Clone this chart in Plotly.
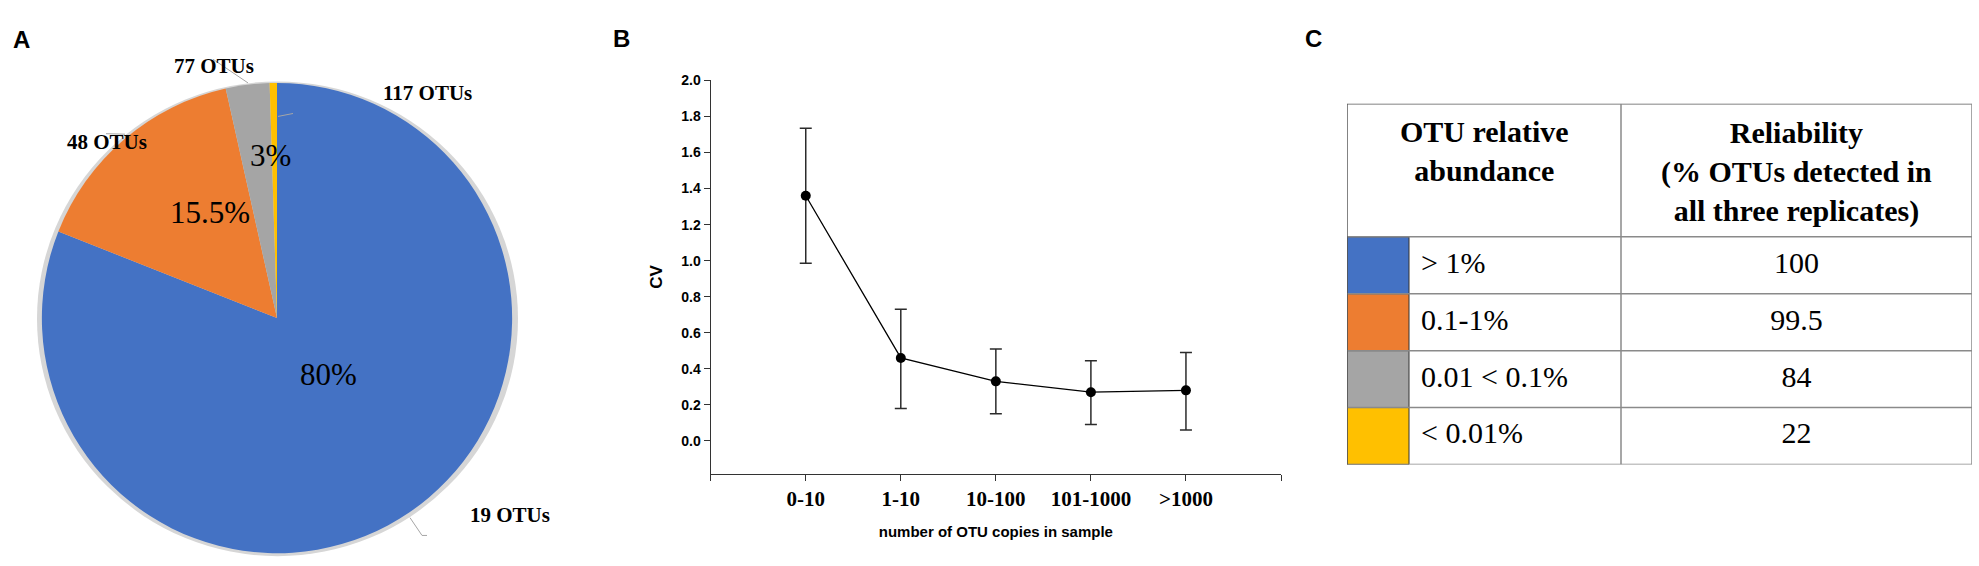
import html
import plotly.graph_objects as go

W, H = 1979, 566

# Panel A - OTU abundance classes
abundance_classes = ["> 1%", "0.1-1%", "0.01 < 0.1%", "< 0.01%"]
class_colors = ["#4472C4", "#ED7D31", "#A5A5A5", "#FFC000"]
read_share = [81, 15.5, 3, 0.5]
share_labels = ["80%", "15.5%", "3%", ""]
otu_counts = ["19 OTUs", "48 OTUs", "77 OTUs", "117 OTUs"]

# Panel B - CV by copy number
copy_bins = ["0-10", "1-10", "10-100", "101-1000", ">1000"]
cv_mean = [1.36, 0.46, 0.33, 0.27, 0.28]
cv_err_plus = [0.375, 0.27, 0.18, 0.175, 0.21]
cv_err_minus = [0.375, 0.28, 0.18, 0.18, 0.22]
cv_ticks = [0.0, 0.2, 0.4, 0.6, 0.8, 1.0, 1.2, 1.4, 1.6, 1.8, 2.0]

# Panel C - reliability table
reliability = ["100", "99.5", "84", "22"]


def px(x, y):
    # pixel position -> paper coords
    return x / W, 1 - y / H


SERIF = "Liberation Serif"
SANS = "Liberation Sans"

fig = go.Figure()

# ---- A: pie
pie_cx, pie_cy, pie_r = 277, 314.5, 238.5
fig.add_trace(go.Pie(
    values=read_share, labels=abundance_classes,
    marker=dict(colors=class_colors, line=dict(width=0)),
    sort=False, direction="clockwise", rotation=0,
    textinfo="none", hoverinfo="label+percent", showlegend=False,
    domain=dict(x=[(pie_cx - pie_r) / W, (pie_cx + pie_r) / W],
                y=[1 - (pie_cy + pie_r) / H, 1 - (pie_cy - pie_r) / H]),
))

shapes = []
# soft shadow behind pie
sx0, sy0 = px(pie_cx - pie_r - 1.5, pie_cy - pie_r - 1.5)
sx1, sy1 = px(pie_cx + pie_r + 2.5, pie_cy + pie_r + 3)
shapes.append(dict(type="circle", xref="paper", yref="paper", layer="below",
                   x0=sx0, x1=sx1, y0=sy1, y1=sy0,
                   fillcolor="#d6d6d6", line=dict(width=0)))

annotations = []
pct_pos = [(298, 392), (168, 188), (248, 130)]
for txt, (x, y) in zip(share_labels, pct_pos):
    ax_, ay_ = px(x, y)
    annotations.append(dict(x=ax_, y=ay_, xref="paper", yref="paper", text=txt,
                            showarrow=False, font=dict(family=SERIF, size=31, color="black")))

otu_pos = [(468, 528), (65, 122), (172, 45), (381, 72)]
for txt, (x, y) in zip(otu_counts, otu_pos):
    ax_, ay_ = px(x, y)
    annotations.append(dict(x=ax_, y=ay_, xref="paper", yref="paper", text=txt,
                            showarrow=False,
                            font=dict(family=SERIF, size=21, color="black", weight="bold")))

leaders = [[(410, 517), (422, 535), (427, 535)],
           [(106, 127.5), (125, 128)],
           [(213, 52), (248, 76)],
           [(278, 110), (293, 107)]]
for pts in leaders:
    for (xa, ya), (xb, yb) in zip(pts[:-1], pts[1:]):
        x0, y0 = px(xa, ya)
        x1, y1 = px(xb, yb)
        shapes.append(dict(type="line", xref="paper", yref="paper",
                           x0=x0, y0=y0, x1=x1, y1=y1,
                           line=dict(color="#a6a6a6", width=1)))

# ---- B: CV line with error bars
fig.add_trace(go.Scatter(
    x=list(range(len(copy_bins))), y=cv_mean, mode="lines+markers",
    line=dict(color="black", width=1.3),
    marker=dict(color="black", size=10),
    error_y=dict(type="data", symmetric=False, array=cv_err_plus,
                 arrayminus=cv_err_minus, color="#2b2b2b", thickness=1.5, width=6),
    xaxis="x2", yaxis="y2", showlegend=False,
))

# ---- C: table on its own hidden axes (1 unit = 1 px in x, 1 row in y)
tbl_x0, tbl_x1, tbl_y0, tbl_y1 = 1347, 1972, 97, 463
swatch_w, label_w = 62, 274
header_rows = 2.34
rows = list(range(len(abundance_classes)))

fig.add_trace(go.Bar(
    y=rows, x=[swatch_w] * len(rows), base=0, orientation="h", width=1,
    marker=dict(color=class_colors, line=dict(color="#333333", width=1)),
    xaxis="x3", yaxis="y3", showlegend=False, hoverinfo="skip",
))
fig.add_trace(go.Scatter(
    x=[swatch_w + 12] * len(rows), y=rows, mode="text",
    text=[html.escape(c) for c in abundance_classes], textposition="middle right",
    textfont=dict(family=SERIF, size=30, color="black"),
    xaxis="x3", yaxis="y3", showlegend=False, hoverinfo="skip",
))
fig.add_trace(go.Scatter(
    x=[(label_w + (tbl_x1 - tbl_x0)) / 2] * len(rows), y=rows, mode="text",
    text=reliability, textposition="middle center",
    textfont=dict(family=SERIF, size=30, color="black"),
    xaxis="x3", yaxis="y3", showlegend=False, hoverinfo="skip",
))

tbl_w = tbl_x1 - tbl_x0
top = -0.5 - header_rows
bottom = len(rows) - 0.5
grid = "#8a8a8a"
for yv in [top, -0.5] + [r + 0.5 for r in rows]:
    shapes.append(dict(type="line", xref="x3", yref="y3", x0=0, x1=tbl_w, y0=yv, y1=yv,
                       line=dict(color="#5a5a5a" if yv == top else grid, width=1.5)))
for xv in [0, label_w, tbl_w]:
    shapes.append(dict(type="line", xref="x3", yref="y3", x0=xv, x1=xv, y0=top, y1=bottom,
                       line=dict(color="#5a5a5a" if xv == 0 else grid, width=1.5)))

annotations.append(dict(x=label_w / 2, y=top + 0.84, xref="x3", yref="y3",
                        text="OTU relative<br>abundance", showarrow=False,
                        font=dict(family=SERIF, size=30, color="black", weight="bold")))
annotations.append(dict(x=(label_w + tbl_w) / 2, y=top + 1.2, xref="x3", yref="y3",
                        text="Reliability<br>(% OTUs detected in<br>all three replicates)",
                        showarrow=False,
                        font=dict(family=SERIF, size=30, color="black", weight="bold")))

# panel letters
for letter, (x, y) in zip(["A", "B", "C"], [(11, 16), (611, 15.5), (1313, 15.5)]):
    ax_, ay_ = px(x, y)
    annotations.append(dict(x=ax_, y=ay_, xref="paper", yref="paper", text=letter,
                            showarrow=False,
                            font=dict(family=SANS, size=24, color="black", weight="bold")))

bx0, bx1 = 710.7, 1281
by_top, by_bot = 73.3, 472.3

fig.update_layout(
    width=W, height=H,
    margin=dict(l=0, r=0, t=0, b=0),
    paper_bgcolor="white", plot_bgcolor="white",
    showlegend=False,
    xaxis2=dict(
        domain=[bx0 / W, bx1 / W], anchor="y2",
        range=[-1, len(copy_bins)],
        tickvals=list(range(-1, len(copy_bins) + 1)),
        ticktext=[""] + copy_bins + [""],
        ticks="outside", ticklen=6, tickwidth=1.3, tickcolor="#333333",
        showline=True, linecolor="#333333", linewidth=1.3,
        showgrid=False, zeroline=False,
        tickfont=dict(family=SERIF, size=21, color="black", weight="bold"),
        title=dict(text="number of OTU copies in sample", standoff=16,
                   font=dict(family=SANS, size=15, color="black", weight="bold")),
    ),
    yaxis2=dict(
        domain=[1 - by_bot / H, 1 - by_top / H], anchor="x2",
        range=[-0.182, 2.001],
        tickvals=cv_ticks, tickformat=".1f",
        ticks="outside", ticklen=6, tickwidth=1.3, tickcolor="#333333",
        showline=True, linecolor="#333333", linewidth=1.3,
        showgrid=False, zeroline=False,
        tickfont=dict(family=SANS, size=14, color="black", weight="bold"),
        title=dict(text="CV", standoff=14,
                   font=dict(family=SANS, size=17, color="black", weight="bold")),
    ),
    xaxis3=dict(domain=[tbl_x0 / W, tbl_x1 / W], anchor="y3", range=[0, tbl_w],
                visible=False, fixedrange=True),
    yaxis3=dict(domain=[1 - tbl_y1 / H, 1 - tbl_y0 / H], anchor="x3",
                range=[bottom, top], visible=False, fixedrange=True),
    shapes=shapes,
    annotations=annotations,
)

fig.write_html("out.html", config={"displayModeBar": False},
               post_script="document.body.style.margin='0';")
